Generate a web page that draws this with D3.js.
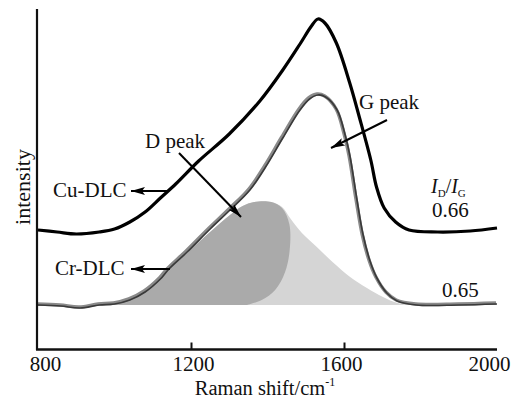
<!DOCTYPE html>
<html>
<head>
<meta charset="utf-8">
<script src="https://cdn.jsdelivr.net/npm/d3@7"></script>
<style>
  body { margin: 0; background: #fff; }
  text { font-family: "Liberation Serif", "Times New Roman", serif; fill: #111; }
</style>
</head>
<body>
<svg id="chart"></svg>
<script>
// Raman shift ticks
const xTicks = [800, 1200, 1600, 2000];

// Cu-DLC spectrum (black)
const cuWave = [800, 850, 900, 960, 1000, 1040, 1080, 1120, 1160, 1220, 1300, 1380, 1440, 1485, 1515, 1532, 1550, 1580, 1615, 1640, 1670, 1685, 1705, 1735, 1770, 1845, 1930, 2000];
const cuInt  = [120, 118, 116, 118, 121, 128, 138, 152, 166, 189, 216, 249, 280, 306, 324, 331, 327, 307, 267, 233, 190, 163, 142, 128, 120, 118, 119, 122];

// Cr-DLC spectrum (gray)
const crWave = [800, 860, 910, 960, 1000, 1040, 1080, 1120, 1140, 1190, 1250, 1302, 1354, 1395, 1440, 1485, 1510, 1532, 1552, 1582, 1603, 1616, 1634, 1650, 1668, 1686, 1712, 1739, 1790, 1900, 2000];
const crInt  = [45, 44, 42, 45, 46, 50, 58, 71, 80, 98, 121, 140, 160, 183, 212, 240, 251, 255, 253, 240, 215, 193, 150, 115, 89, 72, 57, 49, 45, 45, 46];

// D peak fit (dark fill outline)
const dWave = [975, 1040, 1080, 1119, 1140, 1190, 1250, 1302, 1335, 1365, 1410, 1438, 1457, 1458, 1446, 1420, 1385, 1346];
const dInt  = [45, 50, 58, 71, 80, 97, 118, 135, 144, 148, 148, 142, 126, 100, 78, 60, 50, 45];

// G peak fit (light fill)
const gWave = [975, 1040, 1080, 1119, 1140, 1190, 1250, 1302, 1335, 1365, 1410, 1438, 1459, 1490, 1529, 1570, 1616, 1660, 1702, 1740, 1785];
const gInt  = [45, 50, 58, 71, 80, 97, 118, 135, 144, 148, 148, 143, 132, 117, 103, 88, 73, 62, 53, 47, 45];
const baseInt = 45;

const width = 513, height = 398;
const svg = d3.select("#chart").attr("width", width).attr("height", height);

const x = d3.scaleLinear().domain([800, 2000]).range([38, 497]);
const y = d3.scaleLinear().domain([0, 340]).range([350, 10]);

const zip = (a, b) => a.map((v, i) => [v, b[i]]);

// fills
svg.append("path")
    .datum(zip(gWave, gInt))
    .attr("fill", "#d5d5d5")
    .attr("d", d3.area().x(d => x(d[0])).y0(y(baseInt)).y1(d => y(d[1])).curve(d3.curveCatmullRom));

const dLine = d3.line().x(d => x(d[0])).y(d => y(d[1])).curve(d3.curveCatmullRom);
svg.append("path")
    .attr("fill", "#aaaaaa")
    .attr("d", dLine(zip(dWave, dInt)) + "Z");

// Cr-DLC: raw data band and fit line
const specLine = d3.line().x(d => x(d[0])).y(d => y(d[1])).curve(d3.curveCatmullRom);
svg.append("path")
    .datum(zip(crWave, crInt))
    .attr("fill", "none")
    .attr("stroke", "#8a8a8a")
    .attr("stroke-width", 3.5)
    .attr("transform", "translate(-1,-1)")
    .attr("d", specLine);
svg.append("path")
    .datum(zip(crWave, crInt))
    .attr("fill", "none")
    .attr("stroke", "#3a3a3a")
    .attr("stroke-width", 1.7)
    .attr("d", specLine);

// Cu-DLC
svg.append("path")
    .datum(zip(cuWave, cuInt))
    .attr("fill", "none")
    .attr("stroke", "#000")
    .attr("stroke-width", 3.2)
    .attr("stroke-linejoin", "round")
    .attr("d", specLine);

// axes
const xAxis = svg.append("g")
    .attr("transform", "translate(0,349.5)")
    .call(d3.axisBottom(x).tickValues(xTicks).tickSizeInner(-7).tickSizeOuter(0).tickFormat(d3.format("d")));
xAxis.select(".domain").attr("stroke", "#111").attr("stroke-width", 2.5).attr("d", "M36,0H497");
xAxis.selectAll(".tick line").attr("stroke", "#111").attr("stroke-width", 2)
    .attr("display", d => (d === 800 || d === 2000) ? "none" : null);
xAxis.selectAll(".tick text")
    .attr("y", 7)
    .attr("font-family", "Liberation Serif")
    .attr("font-size", 21)
    .attr("fill", "#111")
    .attr("dx", d => d === 800 ? 7 : d === 2000 ? -8 : d === 1200 ? 2 : -3);

svg.append("g")
    .attr("transform", "translate(37,0)")
    .call(d3.axisLeft(y).tickValues([]).tickSizeOuter(0))
    .select(".domain").attr("stroke", "#111").attr("stroke-width", 2.2).attr("d", "M0,9V350");

// axis titles
const xt = svg.append("text").attr("x", 265).attr("y", 395).attr("text-anchor", "middle").attr("font-size", 20.5);
xt.append("tspan").text("Raman shift/cm");
xt.append("tspan").attr("font-size", 12).attr("dy", -9).text("-1");

svg.append("text")
    .attr("transform", "translate(30,187) rotate(-90)")
    .attr("text-anchor", "middle")
    .attr("font-size", 22)
    .text("intensity");

// arrow marker
svg.append("defs").append("marker")
    .attr("id", "arr")
    .attr("viewBox", "0 0 14 8")
    .attr("refX", 14).attr("refY", 4)
    .attr("markerWidth", 14).attr("markerHeight", 8)
    .attr("markerUnits", "userSpaceOnUse")
    .attr("orient", "auto")
    .append("path").attr("d", "M0,0L14,4L0,8L3,4Z").attr("fill", "#000");

function arrow(x1, y1, x2, y2) {
    svg.append("line")
        .attr("x1", x1).attr("y1", y1).attr("x2", x2).attr("y2", y2)
        .attr("stroke", "#000").attr("stroke-width", 2)
        .attr("marker-end", "url(#arr)");
}

// labels
svg.append("text").attr("x", 53).attr("y", 197).attr("font-size", 21).text("Cu-DLC");
arrow(168, 191, 131, 191);
svg.append("text").attr("x", 55).attr("y", 275).attr("font-size", 21).text("Cr-DLC");
arrow(170, 269, 131, 269);

svg.append("text").attr("x", 145).attr("y", 148).attr("font-size", 21).text("D peak");
arrow(179, 153, 241, 217);
svg.append("text").attr("x", 359).attr("y", 109).attr("font-size", 21).text("G peak");
arrow(387, 120, 331, 148);

const ratio = svg.append("text").attr("x", 431).attr("y", 193).attr("font-size", 20);
ratio.append("tspan").attr("font-style", "italic").text("I");
ratio.append("tspan").attr("font-size", 11).attr("dy", 4).text("D");
ratio.append("tspan").attr("dy", -4).text("/");
ratio.append("tspan").attr("font-style", "italic").text("I");
ratio.append("tspan").attr("font-size", 11).attr("dy", 4).text("G");

svg.append("text").attr("x", 432).attr("y", 217).attr("font-size", 21).text("0.66");
svg.append("text").attr("x", 442).attr("y", 297).attr("font-size", 21).text("0.65");
</script>
</body>
</html>
